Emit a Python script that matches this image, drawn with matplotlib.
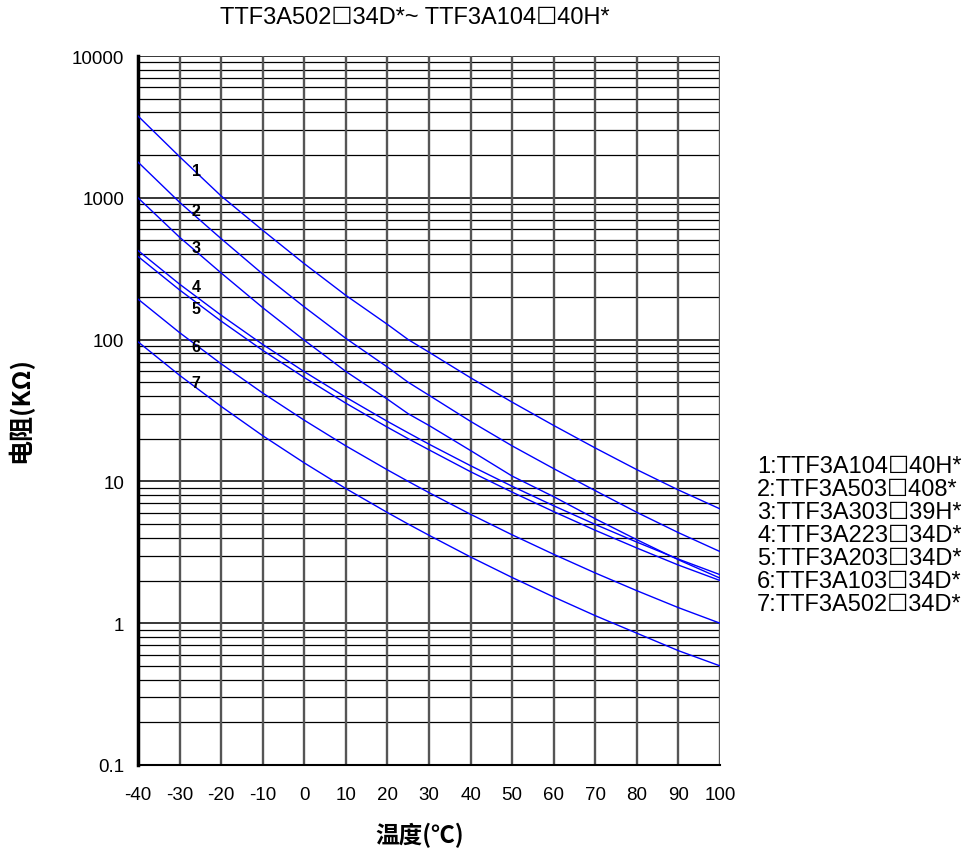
import matplotlib
matplotlib.use("Agg")
import matplotlib.pyplot as plt
from matplotlib.ticker import FixedLocator, NullFormatter

plt.rcParams['font.family'] = ['Liberation Sans', 'DejaVu Sans']

temps = [-40, -30, -20, -10, 0, 10, 20, 25, 30, 40, 50, 60, 70, 80, 90, 100]

r1 = [3775, 1950, 1030, 590, 343, 205, 128, 100, 81.5, 53.8, 36.2, 24.8, 17.2, 12.1, 8.7, 6.4]
r2 = [1786, 930, 515, 290, 170, 102, 64, 50, 40.5, 26.5, 17.8, 12.3, 8.6, 6.05, 4.35, 3.2]
r3 = [1000, 527, 295, 168, 99, 59.6, 38, 30, 24.8, 16.5, 10.9, 7.8, 5.45, 3.88, 2.8, 2.08]
r4 = [425, 246, 148.5, 92.4, 59.4, 39.2, 26.5, 22, 18.3, 12.9, 9.24, 6.73, 4.97, 3.73, 2.83, 2.2]
r5 = [386, 224, 135, 84, 54, 35.6, 24.1, 20, 16.7, 11.7, 8.4, 6.12, 4.52, 3.39, 2.57, 2.0]
r6 = [193, 112, 67.5, 42, 27, 17.8, 12.06, 10, 8.33, 5.86, 4.2, 3.06, 2.26, 1.695, 1.287, 1.0]
r7 = [96.5, 56, 33.8, 21, 13.5, 8.9, 6.03, 5, 4.17, 2.93, 2.1, 1.53, 1.13, 0.85, 0.64, 0.5]
series = [r1, r2, r3, r4, r5, r6, r7]

curve_ids = ["1", "2", "3", "4", "5", "6", "7"]
label_x = -26
label_y = [1570, 820, 443, 235, 167, 90, 50]

BOX = "\u2610"
legend_labels = [
    "1:TTF3A104" + BOX + "40H*",
    "2:TTF3A503" + BOX + "408*",
    "3:TTF3A303" + BOX + "39H*",
    "4:TTF3A223" + BOX + "34D*",
    "5:TTF3A203" + BOX + "34D*",
    "6:TTF3A103" + BOX + "34D*",
    "7:TTF3A502" + BOX + "34D*",
]

title = "TTF3A502" + BOX + "34D*~ TTF3A104" + BOX + "40H*"
xticks = [-40, -30, -20, -10, 0, 10, 20, 30, 40, 50, 60, 70, 80, 90, 100]
yticks = [0.1, 1, 10, 100, 1000, 10000]
ytick_labels = ["0.1", "1", "10", "100", "1000", "10000"]

fig = plt.figure(figsize=(9.67, 8.53), dpi=100)
ax = fig.add_axes([138/967, 1-766/853, (720-138)/967, (766-57)/853])

ax.set_yscale('log')
ax.set_xlim(-40, 100)
ax.set_ylim(0.1, 10000)

# grid
minor = []
for d in [0.1, 1, 10, 100, 1000]:
    for m in range(2, 10):
        minor.append(d * m)
for v in minor:
    ax.axhline(v, color='black', lw=0.9, zorder=1)
for v in yticks:
    ax.axhline(v, color='black', lw=1.1, zorder=1)
for x in xticks:
    ax.axvline(x, color='#555555', lw=1.7, zorder=1)

for s in series:
    ax.plot(temps, s, color='#0000ff', lw=1.0, zorder=3)

for cid, ly in zip(curve_ids, label_y):
    ax.text(label_x, ly, cid, fontsize=11.5, fontweight='bold', ha='center', va='center', zorder=4)

ax.yaxis.set_major_locator(FixedLocator(yticks))
ax.set_yticklabels(ytick_labels)
ax.yaxis.set_minor_locator(FixedLocator(minor))
ax.yaxis.set_minor_formatter(NullFormatter())
ax.set_xticks(xticks)
ax.set_xticklabels([str(t) for t in xticks])
ax.tick_params(axis='both', which='both', length=0, labelsize=13.5)
ax.tick_params(axis='x', pad=15)
ax.tick_params(axis='y', pad=10)

for side in ['top', 'right']:
    ax.spines[side].set_visible(False)
ax.spines['left'].set_linewidth(2.5)
ax.spines['bottom'].set_linewidth(1.5)

fig.text(415/967, 1-18/853, title, fontsize=17, ha='center', va='center')

for i, lab in enumerate(legend_labels):
    fig.text(757/967, 1-(467+23*i)/853, lab, fontsize=17, ha='left', va='center')

cjk = ['Noto Sans CJK SC', 'DejaVu Sans']
fig.text(20/967, 1-410/853, "电阻(KΩ)", rotation=90, fontsize=18, fontweight='bold',
         ha='center', va='center', family=cjk)
fig.text(420/967, 1-835/853, "温度(℃)", fontsize=17, fontweight='bold',
         ha='center', va='center', family=cjk)

fig.savefig("out.png", dpi=100)
